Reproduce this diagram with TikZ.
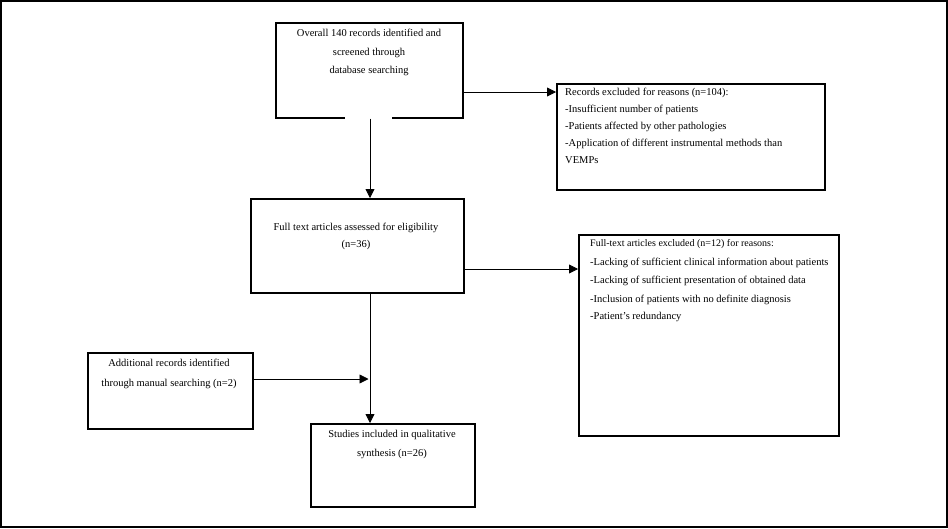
\documentclass[tikz,border=0pt]{standalone}
\usepackage{fontspec}
\setmainfont{Liberation Serif}
\usetikzlibrary{arrows.meta,calc}
\begin{document}
\begin{tikzpicture}[x=1pt,y=-1pt,
  box/.style={draw=black,line width=1.6pt,anchor=north west,inner sep=0pt,fill=none},
  txt/.style={inner sep=0pt,font=\fontsize{10.5}{17}\selectfont},
  ltxt/.style={txt,anchor=north west,align=left},
  ctxt/.style={txt,anchor=north,align=center},
  conn/.style={draw=black,line width=0.8pt},
  arr/.style={conn,-{Triangle[length=9pt,width=9pt]}}]
\useasboundingbox (0,0) rectangle (948,528);
\draw[line width=2pt] (1,1) rectangle (947,527);
% boxes
\node[box,minimum width=187pt,minimum height=95pt] (b1) at (275,22) {};
\node[box,minimum width=268pt,minimum height=106pt] (b2) at (556,83) {};
\node[box,minimum width=213pt,minimum height=94pt] (b3) at (250,198) {};
\node[box,minimum width=260pt,minimum height=201pt] (b4) at (578,234) {};
\node[box,minimum width=165pt,minimum height=76pt] (b5) at (87,352) {};
\node[box,minimum width=164pt,minimum height=83pt] (b6) at (310,423) {};
\fill[white] (345,115) rectangle (392,119.5);
% texts
\node[ctxt,font=\fontsize{10.5}{18.5}\selectfont] (t1) at (369,29) {Overall 140 records identified and\\screened through\\database searching};
\node[ltxt] (t2) at (565,88) {Records excluded for reasons (n=104):\\-Insufficient number of patients\\-Patients affected by other pathologies\\-Application of different instrumental methods than\\VEMPs};
\node[ctxt] (t3) at (356,223) {Full text articles assessed for eligibility\\(n=36)};
\node[ltxt,font=\fontsize{10}{17}\selectfont] (t4) at (590,239) {Full-text articles excluded (n=12) for reasons:};
\node[ltxt] (t4b) at (590,257.5) {-Lacking of sufficient clinical information about patients\\[1.5pt]-Lacking of sufficient presentation of obtained data\\[1.5pt]-Inclusion of patients with no definite diagnosis\\-Patient's redundancy};
\node[ctxt] (t5) at (169,359) {Additional records identified\\[3pt]through manual searching (n=2)};
\node[ctxt] (t6) at (392,430) {Studies included in qualitative\\[2pt]synthesis (n=26)};
% connectors
\coordinate (cx) at (370,0);
\draw[arr] (b1.south -| cx) -- (b3.north -| cx);
\draw[arr] (b3.south -| cx) -- (b6.north -| cx);
\coordinate (p1) at ($(b1.north east)+(0,70)$);
\draw[arr] (p1) -- (p1 -| b2.west);
\coordinate (p3) at ($(b3.north east)+(0,71)$);
\draw[arr] (p3) -- (p3 -| b4.west);
\coordinate (p5) at ($(b5.north east)+(0,27)$);
\coordinate (p5e) at ($(p5 -| cx)+(-1.5,0)$);
\draw[arr] (p5) -- (p5e);
\end{tikzpicture}
\end{document}
